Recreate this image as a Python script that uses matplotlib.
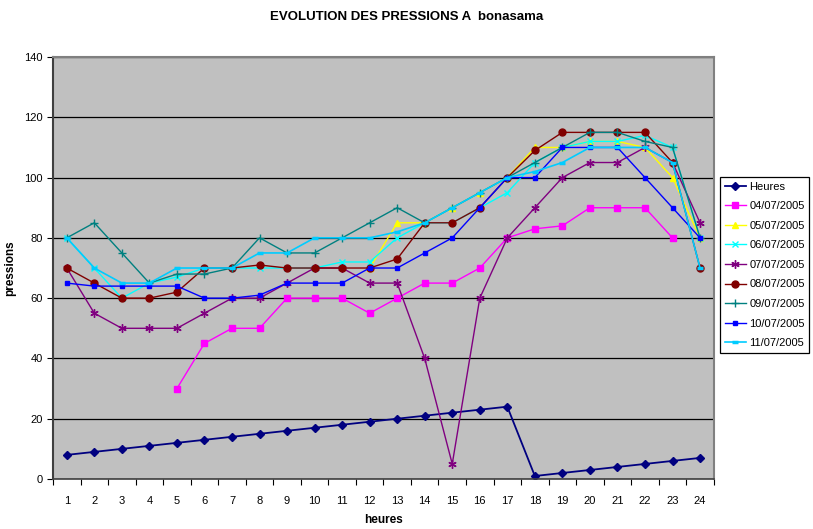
import numpy as np
import matplotlib
matplotlib.use("Agg")
import matplotlib.pyplot as plt
from matplotlib.ticker import MultipleLocator, FixedLocator, NullFormatter

plt.rcParams["font.family"] = ["Liberation Sans", "DejaVu Sans"]

# ── Données ────────────────────────────────────────────────────────────────────
nan = np.nan
HEURES_X = list(range(1, 25))

heures    = [8, 9, 10, 11, 12, 13, 14, 15, 16, 17, 18, 19, 20, 21, 22, 23, 24,
             1, 2, 3, 4, 5, 6, 7]
j_04_07   = [nan, nan, nan, nan, 30, 45, 50, 50, 60, 60, 60, 55, 60, 65, 65, 70,
             80, 83, 84, 90, 90, 90, 80, nan]
j_05_07   = [nan, nan, nan, nan, nan, nan, nan, nan, nan, nan, nan, 70, 85, 85,
             90, 95, 100, 110, 110, 112, 112, 110, 100, 80]
j_06_07   = [80, 70, 60, 65, 67, 70, 70, 70, 70, 70, 72, 72, 80, 85, 85, 90,
             95, 105, 110, 112, 112, 114, 110, 80]
j_07_07   = [70, 55, 50, 50, 50, 55, 60, 60, 65, 70, 70, 65, 65, 40, 5, 60,
             80, 90, 100, 105, 105, 110, 105, 85]
j_08_07   = [70, 65, 60, 60, 62, 70, 70, 71, 70, 70, 70, 70, 73, 85, 85, 90,
             100, 109, 115, 115, 115, 115, 105, 70]
j_09_07   = [80, 85, 75, 65, 68, 68, 70, 80, 75, 75, 80, 85, 90, 85, 90, 95,
             100, 105, 110, 115, 115, 112, 110, 80]
j_10_07   = [65, 64, 64, 64, 64, 60, 60, 61, 65, 65, 65, 70, 70, 75, 80, 90,
             100, 100, 110, 110, 110, 100, 90, 80]
j_11_07   = [80, 70, 65, 65, 70, 70, 70, 75, 75, 80, 80, 80, 82, 85, 90, 95,
             100, 102, 105, 110, 110, 110, 105, 70]

# ── Style des séries (couleurs Excel par défaut) ───────────────────────────────
SERIES = [
    ("Heures",     heures,  "#000080", dict(marker="D", ms=4, lw=1.3)),
    ("04/07/2005", j_04_07, "#FF00FF", dict(marker="s", ms=5, lw=1)),
    ("05/07/2005", j_05_07, "#FFFF00", dict(marker="^", ms=5, lw=1)),
    ("06/07/2005", j_06_07, "#00FFFF", dict(marker="x", ms=5, mew=1, lw=1)),
    ("07/07/2005", j_07_07, "#800080", dict(marker=(6, 2, 0), ms=6, mew=1, lw=1)),
    ("08/07/2005", j_08_07, "#800000", dict(marker="o", ms=5, lw=1)),
    ("09/07/2005", j_09_07, "#008080", dict(marker="+", ms=6, mew=1, lw=1)),
    ("10/07/2005", j_10_07, "#0000FF", dict(marker="s", ms=2.2, lw=1)),
    ("11/07/2005", j_11_07, "#00CCFF", dict(marker="_", ms=5, mew=2.5, lw=1.2)),
]

# ── Figure ─────────────────────────────────────────────────────────────────────
fig = plt.figure(figsize=(8.13, 5.29), dpi=100)
ax = fig.add_axes([0.0652, 0.0945, 0.8128, 0.7977])
ax.set_facecolor("#C0C0C0")

for label, values, color, style in SERIES:
    ax.plot(HEURES_X, values, color=color, label=label,
            markerfacecolor=color, markeredgecolor=color, **style)

# Axe Y
ax.set_ylim(0, 140)
ax.yaxis.set_major_locator(MultipleLocator(20))
ax.grid(True, axis="y", color="black", linewidth=0.9)
ax.set_axisbelow(True)

# Axe X en catégories : graduations entre les heures, étiquettes au centre
ax.set_xlim(0.5, 24.5)
ax.xaxis.set_major_locator(FixedLocator(np.arange(0.5, 25, 1)))
ax.xaxis.set_major_formatter(NullFormatter())
ax.xaxis.set_minor_locator(FixedLocator(HEURES_X))
ax.set_xticklabels([str(h) for h in HEURES_X], minor=True)
ax.tick_params(axis="x", which="minor", length=0, labelsize=8, pad=12)
ax.tick_params(axis="x", which="major", length=4, direction="out")
ax.tick_params(axis="y", length=4, direction="out", labelsize=8)

for side in ["top", "right"]:
    ax.spines[side].set_color("#808080")
    ax.spines[side].set_linewidth(1.5)
ax.spines["left"].set_color("#404040")
ax.spines["left"].set_linewidth(1.5)
ax.spines["bottom"].set_color("#404040")
ax.spines["bottom"].set_linewidth(1.2)

ax.set_xlabel("heures", fontsize=8.5, fontweight="bold")
ax.xaxis.set_label_coords(0.5, -0.083)
ax.set_ylabel("pressions", fontsize=8.5, fontweight="bold")
ax.yaxis.set_label_coords(-0.056, 0.5)
fig.text(0.5, 0.968, "EVOLUTION DES PRESSIONS A  bonasama",
         ha="center", va="center", fontsize=9.5, fontweight="bold")

leg = fig.legend(loc="upper left", bbox_to_anchor=(0.886, 0.665),
                 fontsize=8, frameon=True, fancybox=False, framealpha=1,
                 edgecolor="black", handlelength=1.9, handletextpad=0.3,
                 labelspacing=0.86, borderpad=0.4, borderaxespad=0)
leg.get_frame().set_linewidth(0.9)

plt.savefig("out.png", dpi=100)
plt.close()
